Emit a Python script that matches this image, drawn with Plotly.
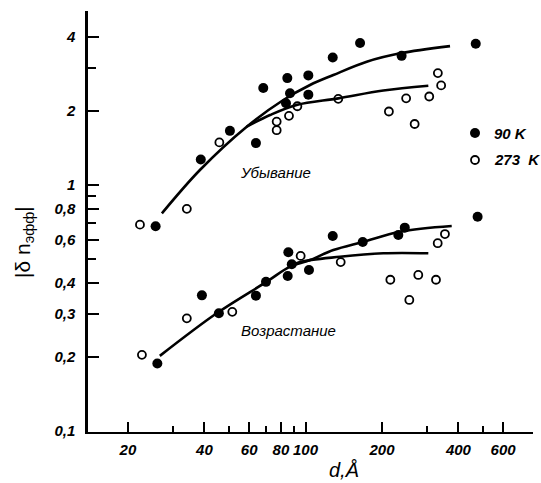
import plotly.graph_objects as go

# Film thickness d (Å) and |δn_eff| for the decreasing branch ("Убывание")
d_dec_90 = [25.7, 38.7, 50.4, 63.8, 68.2, 83.8, 84.8, 86.9, 102.6, 102.6, 128, 164, 239, 468]
n_dec_90 = [0.68, 1.27, 1.66, 1.48, 2.48, 2.15, 2.72, 2.36, 2.79, 2.33, 3.30, 3.78, 3.35, 3.75]
d_dec_273 = [22.3, 34.1, 45.8, 77, 77, 86.1, 92.9, 134.6, 213, 249, 269, 307, 332, 342]
n_dec_273 = [0.69, 0.80, 1.49, 1.81, 1.67, 1.91, 2.09, 2.24, 1.99, 2.25, 1.77, 2.29, 2.85, 2.54]

# Increasing branch ("Возрастание")
d_inc_90 = [26.1, 39.1, 45.6, 63.8, 69.9, 85.1, 85.6, 88.3, 103.2, 128, 168, 232, 246, 476]
n_inc_90 = [0.188, 0.356, 0.301, 0.355, 0.404, 0.427, 0.533, 0.476, 0.451, 0.62, 0.587, 0.626, 0.671, 0.743]
d_inc_273 = [22.7, 34.1, 51.5, 95.7, 137.6, 215.8, 256.3, 278, 326.4, 331.5, 354]
n_inc_273 = [0.204, 0.287, 0.305, 0.515, 0.486, 0.412, 0.341, 0.431, 0.412, 0.58, 0.632]

# Smooth guide curves
fit_dec_90_d = [27.2, 38.4, 58.7, 81.8, 104.2, 128.7, 174.2, 235.5, 370.7]
fit_dec_90_n = [0.767, 1.151, 1.726, 2.216, 2.55, 2.80, 3.17, 3.43, 3.67]
fit_dec_273_d = [58.7, 72.5, 92.3, 134.6, 202.5, 304.5]
fit_dec_273_n = [1.726, 1.925, 2.115, 2.25, 2.42, 2.53]
fit_inc_90_d = [26.7, 44.7, 70.4, 86.9, 104.2, 128.7, 168.9, 235.5, 376.4]
fit_inc_90_n = [0.202, 0.301, 0.4045, 0.4655, 0.4956, 0.544, 0.588, 0.646, 0.681]
fit_inc_273_d = [86.9, 95.1, 136.7, 202.5, 304.5]
fit_inc_273_n = [0.4655, 0.486, 0.511, 0.528, 0.528]

# Axis ticks
x_ticks = [20, 40, 60, 80, 100, 200, 400, 600]
x_minor = [30, 50, 70, 90, 300, 500]
y_ticks = [0.1, 0.2, 0.3, 0.4, 0.6, 0.8, 1, 2, 4]
y_labels = ["0,1", "0,2", "0,3", "0,4", "0,6", "0,8", "1", "2", "4"]
y_minor = [0.5, 0.7, 0.9, 3]

# Series key
series_names = ["90 K", "273 \u00a0K"]

FONT = "Liberation Sans"
label_font = dict(family=FONT, size=15, color="black", style="italic", weight="bold")

fig = go.Figure()

for xs, ys in [(fit_dec_90_d, fit_dec_90_n), (fit_dec_273_d, fit_dec_273_n),
               (fit_inc_90_d, fit_inc_90_n), (fit_inc_273_d, fit_inc_273_n)]:
    fig.add_trace(go.Scatter(x=xs, y=ys, mode="lines", showlegend=False,
                             line=dict(color="black", width=2.6, shape="spline", smoothing=1.0),
                             hoverinfo="skip"))

filled = dict(symbol="circle", size=10, color="black", line=dict(width=0))
hollow = dict(symbol="circle-open", size=8, color="black", line=dict(width=1.8))

fig.add_trace(go.Scatter(x=d_dec_90 + d_inc_90, y=n_dec_90 + n_inc_90, mode="markers",
                         marker=filled, name=series_names[0], showlegend=False))
fig.add_trace(go.Scatter(x=d_dec_273 + d_inc_273, y=n_dec_273 + n_inc_273, mode="markers",
                         marker=hollow, name=series_names[1], showlegend=False))

fig.update_layout(
    width=541, height=483,
    margin=dict(l=88, r=8, t=11, b=51),
    paper_bgcolor="white", plot_bgcolor="white",
    font=dict(family=FONT, color="black"),
    showlegend=False,
    xaxis=dict(type="log", range=[1.1437, 2.8957], showgrid=False, zeroline=False,
               showline=True, linecolor="black", linewidth=2, automargin=False,
               tickvals=x_ticks, ticktext=[str(v) for v in x_ticks], tickangle=0,
               ticks="inside", ticklen=10, tickwidth=1.5, tickcolor="black",
               tickfont=label_font, ticklabelstandoff=3,
               minor=dict(tickvals=x_minor, ticks="inside", ticklen=6,
                          tickwidth=1.5, tickcolor="black", showgrid=False)),
    yaxis=dict(type="log", range=[-1.004, 0.7073], showgrid=False, zeroline=False,
               showline=True, linecolor="black", linewidth=2.5, automargin=False,
               tickvals=y_ticks, ticktext=y_labels,
               ticks="inside", ticklen=11, tickwidth=1.5, tickcolor="black",
               tickfont=label_font, ticklabelstandoff=7,
               minor=dict(tickvals=y_minor, ticks="inside", ticklen=8,
                          tickwidth=1.5, tickcolor="black", showgrid=False)),
)


def fx(px):
    return (px - 88) / 445


def fy(py):
    return (432 - py) / 421


def px_note(text, px, py, font, angle=0, anchor="center"):
    fig.add_annotation(text=text, xref="paper", yref="paper", x=fx(px), y=fy(py),
                       xanchor=anchor, yanchor="middle",
                       showarrow=False, font=font, textangle=angle)


italic = dict(family=FONT, size=15, color="black", style="italic")
px_note("Убывание", 275, 173, italic)
px_note("Возрастание", 288, 330, italic)
px_note("d,Å", 344, 470, dict(family=FONT, size=20, color="black", style="italic"))
px_note("|δ n<sub>эфф</sub>|", 24, 242, dict(family=FONT, size=21, color="black"), angle=-90)

# Key: symbol swatches with their labels, to the right of the curves
key_rows = [(133, 5.0, dict(color="black", width=0), "black"),
            (160, 4.0, dict(color="black", width=1.8), "white")]
for name, (cy, r, outline, fill) in zip(series_names, key_rows):
    fig.add_shape(type="circle", xref="paper", yref="paper",
                  x0=fx(475 - r), x1=fx(475 + r), y0=fy(cy + r), y1=fy(cy - r),
                  line=outline, fillcolor=fill, layer="above")
    px_note(name, 492, cy, label_font, anchor="left")

fig.write_html("out.html")
